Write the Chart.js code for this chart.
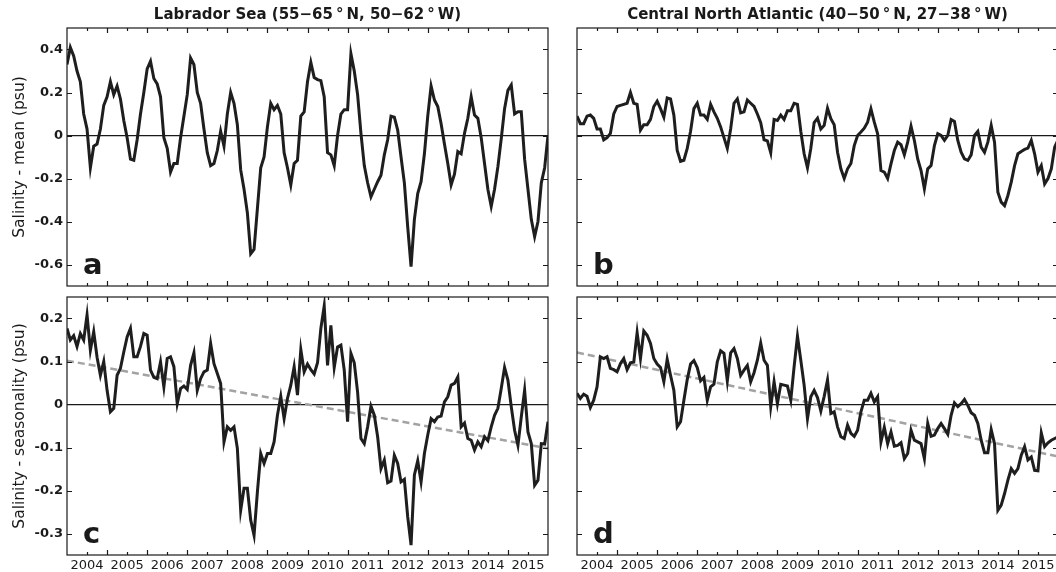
<!DOCTYPE html>
<html>
<head>
<meta charset="utf-8">
<script src="https://cdn.jsdelivr.net/npm/chart.js@4.4.1/dist/chart.umd.min.js"></script>
<style>
    html, body { margin: 0; padding: 0; background: #fff; width: 1056px; height: 572px; overflow: hidden; }
    canvas { position: absolute; }
</style>
</head>
<body>
<canvas id="panel-a" width="615" height="290" style="left:0;top:0"></canvas>
<canvas id="panel-b" width="515" height="290" style="left:560px;top:0"></canvas>
<canvas id="panel-c" width="615" height="282" style="left:0;top:290px"></canvas>
<canvas id="panel-d" width="515" height="282" style="left:560px;top:290px"></canvas>
<script>
// monthly anomalies, Jan 2004 .. Jan 2016
const START_YEAR = 2004;

const labradorMean = [
    0.33, 0.41, 0.37, 0.30, 0.25, 0.10, 0.03, -0.15, -0.05, -0.04,
    0.03, 0.14, 0.18, 0.25, 0.19, 0.23, 0.17, 0.07, -0.01, -0.11,
    -0.115, -0.02, 0.10, 0.20, 0.31, 0.345, 0.265, 0.24, 0.18, -0.01,
    -0.06, -0.17, -0.13, -0.13, -0.01, 0.09, 0.19, 0.36, 0.33, 0.20,
    0.15, 0.03, -0.08, -0.14, -0.13, -0.07, 0.02, -0.05, 0.10, 0.20,
    0.15, 0.05, -0.16, -0.25, -0.36, -0.55, -0.53, -0.34, -0.15, -0.10,
    0.04, 0.15, 0.12, 0.14, 0.10, -0.08, -0.15, -0.23, -0.13, -0.115,
    0.09, 0.11, 0.25, 0.34, 0.27, 0.26, 0.255, 0.18, -0.08, -0.09,
    -0.14, 0.00, 0.10, 0.12, 0.12, 0.38, 0.30, 0.19, 0.01, -0.14,
    -0.22, -0.285, -0.25, -0.215, -0.185, -0.09, -0.02, 0.09, 0.085, 0.025,
    -0.10, -0.22, -0.425, -0.61, -0.39, -0.27, -0.215, -0.085, 0.09, 0.23,
    0.165, 0.135, 0.055, -0.04, -0.13, -0.23, -0.18, -0.075, -0.085, 0.01,
    0.08, 0.18, 0.095, 0.08, -0.01, -0.13, -0.25, -0.33, -0.25, -0.145,
    -0.015, 0.125, 0.21, 0.235, 0.10, 0.11, 0.11, -0.11, -0.25, -0.39,
    -0.47, -0.40, -0.22, -0.15, 0.00
];

const centralMean = [
    0.09, 0.055, 0.055, 0.09, 0.095, 0.08, 0.03, 0.03, -0.02, -0.01,
    0.01, 0.10, 0.135, 0.14, 0.145, 0.15, 0.20, 0.15, 0.145, 0.025,
    0.05, 0.05, 0.075, 0.135, 0.16, 0.125, 0.085, 0.175, 0.17, 0.095,
    -0.07, -0.12, -0.115, -0.06, 0.02, 0.125, 0.15, 0.095, 0.095, 0.075,
    0.145, 0.11, 0.08, 0.04, -0.01, -0.06, 0.03, 0.15, 0.17, 0.105,
    0.11, 0.165, 0.15, 0.135, 0.10, 0.06, -0.02, -0.025, -0.08, 0.075,
    0.07, 0.095, 0.075, 0.115, 0.115, 0.15, 0.145, 0.02, -0.085, -0.15,
    -0.06, 0.06, 0.08, 0.03, 0.047, 0.127, 0.078, 0.05, -0.078, -0.155,
    -0.20, -0.155, -0.13, -0.047, 0.00, 0.016, 0.034, 0.062, 0.124, 0.062,
    0.008, -0.163, -0.17, -0.20, -0.132, -0.07, -0.031, -0.043, -0.09, -0.031,
    0.043, -0.023, -0.109, -0.163, -0.248, -0.155, -0.14, -0.047, 0.008, 0.00,
    -0.023, 0.00, 0.074, 0.065, -0.023, -0.078, -0.109, -0.116, -0.09, 0.00,
    0.019, -0.054, -0.078, -0.031, 0.047, -0.031, -0.264, -0.31, -0.326, -0.279,
    -0.217, -0.14, -0.085, -0.074, -0.065, -0.059, -0.023, -0.085, -0.17, -0.14,
    -0.225, -0.20, -0.155, -0.054, -0.02
];

const labradorSeason = [
    0.177, 0.15, 0.16, 0.135, 0.165, 0.15, 0.208, 0.126, 0.169, 0.11,
    0.068, 0.10, 0.033, -0.017, -0.009, 0.068, 0.084, 0.122, 0.157, 0.177,
    0.111, 0.111, 0.135, 0.165, 0.161, 0.08, 0.063, 0.06, 0.099, 0.041,
    0.107, 0.111, 0.088, 0.002, 0.037, 0.043, 0.035, 0.091, 0.12, 0.033,
    0.06, 0.076, 0.08, 0.142, 0.095, 0.072, 0.049, -0.087, -0.052, -0.06,
    -0.052, -0.102, -0.246, -0.195, -0.195, -0.269, -0.304, -0.203, -0.114, -0.137,
    -0.114, -0.114, -0.087, -0.025, 0.019, -0.033, 0.014, 0.045, 0.088, 0.022,
    0.128, 0.076, 0.094, 0.081, 0.071, 0.097, 0.177, 0.229, 0.091, 0.184,
    0.086, 0.134, 0.138, 0.08, -0.04, 0.119, 0.097, 0.029, -0.079, -0.091,
    -0.052, -0.004, -0.025, -0.075, -0.149, -0.129, -0.182, -0.178, -0.118, -0.137,
    -0.18, -0.174, -0.261, -0.327, -0.164, -0.131, -0.18, -0.114, -0.071, -0.033,
    -0.04, -0.029, -0.027, 0.006, 0.018, 0.045, 0.049, 0.064, -0.052, -0.043,
    -0.079, -0.083, -0.106, -0.087, -0.098, -0.075, -0.084, -0.052, -0.025, -0.009,
    0.037, 0.086, 0.057, -0.005, -0.06, -0.095, -0.029, 0.033, -0.064, -0.091,
    -0.188, -0.176, -0.091, -0.092, -0.04
];

const centralSeason = [
    0.026, 0.014, 0.024, 0.019, -0.007, 0.01, 0.041, 0.111, 0.107, 0.111,
    0.084, 0.081, 0.076, 0.095, 0.107, 0.081, 0.097, 0.099, 0.167, 0.107,
    0.171, 0.161, 0.142, 0.107, 0.094, 0.086, 0.053, 0.105, 0.068, 0.033,
    -0.052, -0.04, 0.01, 0.058, 0.094, 0.102, 0.086, 0.055, 0.063, 0.01,
    0.041, 0.047, 0.099, 0.125, 0.119, 0.055, 0.12, 0.13, 0.107, 0.068,
    0.08, 0.091, 0.053, 0.074, 0.103, 0.143, 0.103, 0.091, -0.005, 0.053,
    0.002, 0.047, 0.045, 0.043, 0.01, 0.088, 0.159, 0.103, 0.045, -0.033,
    0.018, 0.033, 0.016, -0.015, 0.019, 0.057, -0.021, -0.017, -0.052, -0.075,
    -0.079, -0.048, -0.067, -0.074, -0.06, -0.017, 0.01, 0.01, 0.026, 0.006,
    0.018, -0.087, -0.053, -0.091, -0.064, -0.097, -0.095, -0.089, -0.126, -0.114,
    -0.06, -0.083, -0.087, -0.091, -0.126, -0.044, -0.074, -0.071, -0.056, -0.044,
    -0.056, -0.069, -0.025, 0.004, -0.005, 0.002, 0.012, -0.002, -0.019, -0.025,
    -0.044, -0.083, -0.112, -0.112, -0.058, -0.091, -0.246, -0.234, -0.207, -0.176,
    -0.149, -0.16, -0.149, -0.118, -0.098, -0.129, -0.122, -0.153, -0.154, -0.066,
    -0.098, -0.089, -0.083, -0.079, -0.075
];

// linear trends of the seasonality-removed series (start, end)
const trendYears = [2004, 2016];
const labradorTrend = [0.102, -0.102];
const centralTrend = [0.121, -0.121];

// axes
const yearLabels = ['2004', '2005', '2006', '2007', '2008', '2009', '2010', '2011', '2012', '2013', '2014', '2015'];
const yearBoundaries = [2005, 2006, 2007, 2008, 2009, 2010, 2011, 2012, 2013, 2014, 2015];
const meanTicks = [-0.6, -0.4, -0.2, 0, 0.2, 0.4];
const meanTickLabels = ['-0.6', '-0.4', '-0.2', '0', '0.2', '0.4'];
const seasonTicks = [-0.3, -0.2, -0.1, 0, 0.1, 0.2];
const seasonTickLabels = ['-0.3', '-0.2', '-0.1', '0', '0.1', '0.2'];

const FONT = 'DejaVu Sans';
const INK = '#1a1a1a';

function toPoints(values) {
    return values.map((v, i) => ({ x: START_YEAR + i / 12, y: v }));
}

// frame on four sides, inward ticks, panel letter
const panelFrame = {
    id: 'panelFrame',
    afterDraw(chart, args, opts) {
        const { ctx, chartArea: a, scales } = chart;
        const x = scales.x, y = scales.y;
        ctx.save();
        ctx.strokeStyle = INK;
        ctx.lineWidth = 1.2;
        ctx.strokeRect(a.left, a.top, a.right - a.left, a.bottom - a.top);
        ctx.beginPath();
        yearBoundaries.forEach(v => {
            const px = Math.round(x.getPixelForValue(v)) + 0.5;
            ctx.moveTo(px, a.top); ctx.lineTo(px, a.top + 5);
            ctx.moveTo(px, a.bottom); ctx.lineTo(px, a.bottom - 5);
        });
        yearLabels.forEach((l, i) => {
            const px = Math.round(x.getPixelForValue(START_YEAR + i + 0.5)) + 0.5;
            ctx.moveTo(px, a.top); ctx.lineTo(px, a.top + 3);
            ctx.moveTo(px, a.bottom); ctx.lineTo(px, a.bottom - 3);
        });
        opts.yTicks.forEach(v => {
            const py = Math.round(y.getPixelForValue(v)) + 0.5;
            ctx.moveTo(a.left, py); ctx.lineTo(a.left + 5, py);
            ctx.moveTo(a.right, py); ctx.lineTo(a.right - 5, py);
        });
        ctx.stroke();
        ctx.fillStyle = INK;
        ctx.font = `bold 29px "${FONT}"`;
        ctx.textAlign = 'left';
        ctx.textBaseline = 'alphabetic';
        ctx.fillText(opts.letter, a.left + 16, a.bottom - 12);
        ctx.restore();
    }
};

function makePanel(id, cfg) {
    const datasets = [{
        data: toPoints(cfg.values),
        borderColor: '#1e1e1e',
        borderWidth: 3,
        pointRadius: 0,
        tension: 0,
        order: 1
    }];
    if (cfg.trend) {
        datasets.push({
            data: trendYears.map((t, i) => ({ x: t, y: cfg.trend[i] })),
            borderColor: '#a3a3a3',
            borderWidth: 2.5,
            borderDash: [7, 4],
            pointRadius: 0,
            order: 2
        });
    }

    return new Chart(document.getElementById(id), {
        type: 'line',
        data: { datasets },
        options: {
            responsive: false,
            animation: false,
            devicePixelRatio: 1,
            layout: { padding: { top: cfg.padTop, bottom: cfg.padBottom, left: 0, right: 0 } },
            plugins: {
                legend: { display: false },
                tooltip: { enabled: false },
                title: {
                    display: !!cfg.title,
                    text: cfg.title || '',
                    color: INK,
                    font: { family: FONT, size: 15, weight: 'bold', lineHeight: 1.2 },
                    padding: { top: 6, bottom: 4 }
                },
                panelFrame: { letter: cfg.letter, yTicks: cfg.yTicks }
            },
            scales: {
                x: {
                    type: 'linear',
                    min: 2004,
                    max: 2016,
                    afterFit: s => { s.height = cfg.xHeight; s.paddingLeft = 0; s.paddingRight = 0; },
                    afterBuildTicks: s => { s.ticks = yearLabels.map((l, i) => ({ value: START_YEAR + i + 0.5 })); },
                    ticks: {
                        display: cfg.showYears,
                        autoSkip: false,
                        maxRotation: 0,
                        minRotation: 0,
                        padding: 3,
                        color: INK,
                        font: { family: FONT, size: 13 },
                        callback: (v, i) => yearLabels[i]
                    },
                    grid: { display: false, drawTicks: false, tickLength: 0 },
                    border: { display: false }
                },
                y: {
                    position: 'left',
                    min: cfg.yMin,
                    max: cfg.yMax,
                    afterFit: s => { s.width = cfg.leftWidth; s.paddingTop = 0; s.paddingBottom = 0; },
                    afterBuildTicks: s => { s.ticks = cfg.yTicks.map(v => ({ value: v })); },
                    ticks: {
                        display: !!cfg.yLabels,
                        padding: 4,
                        color: INK,
                        font: { family: FONT, size: 13, weight: 'bold' },
                        callback: (v, i) => cfg.yLabels ? cfg.yLabels[i] : ''
                    },
                    title: {
                        display: !!cfg.yTitle,
                        text: cfg.yTitle || '',
                        color: INK,
                        font: { family: FONT, size: 15.5 },
                        padding: { top: 11, bottom: 0 }
                    },
                    grid: {
                        drawTicks: false,
                        tickLength: 0,
                        lineWidth: 1.2,
                        color: ctx => (ctx.tick && ctx.tick.value === 0) ? INK : 'rgba(0,0,0,0)'
                    },
                    border: { display: false }
                },
                yRight: {
                    position: 'right',
                    afterFit: s => { s.width = cfg.rightWidth; s.paddingTop = 0; s.paddingBottom = 0; },
                    ticks: { display: false },
                    grid: { display: false, drawTicks: false, tickLength: 0 },
                    border: { display: false }
                }
            }
        },
        plugins: [panelFrame]
    });
}

makePanel('panel-a', {
    values: labradorMean, letter: 'a',
    title: 'Labrador Sea (55\u221265\u2009\u00b0\u2009N, 50\u221262\u2009\u00b0\u2009W)',
    yMin: -0.7, yMax: 0.5, yTicks: meanTicks, yLabels: meanTickLabels,
    yTitle: 'Salinity - mean (psu)',
    leftWidth: 67, rightWidth: 67, padTop: 0, padBottom: 4, xHeight: 0, showYears: false
});

makePanel('panel-b', {
    values: centralMean, letter: 'b',
    title: 'Central North Atlantic (40\u221250\u2009\u00b0\u2009N, 27\u221238\u2009\u00b0\u2009W)',
    yMin: -0.7, yMax: 0.5, yTicks: meanTicks, yLabels: null,
    leftWidth: 17, rightWidth: 17, padTop: 0, padBottom: 4, xHeight: 0, showYears: false
});

makePanel('panel-c', {
    values: labradorSeason, letter: 'c', trend: labradorTrend,
    yMin: -0.35, yMax: 0.25, yTicks: seasonTicks, yLabels: seasonTickLabels,
    yTitle: 'Salinity - seasonality (psu)',
    leftWidth: 67, rightWidth: 67, padTop: 7, padBottom: 0, xHeight: 17, showYears: true
});

makePanel('panel-d', {
    values: centralSeason, letter: 'd', trend: centralTrend,
    yMin: -0.35, yMax: 0.25, yTicks: seasonTicks, yLabels: null,
    leftWidth: 17, rightWidth: 17, padTop: 7, padBottom: 0, xHeight: 17, showYears: true
});
</script>
</body>
</html>
